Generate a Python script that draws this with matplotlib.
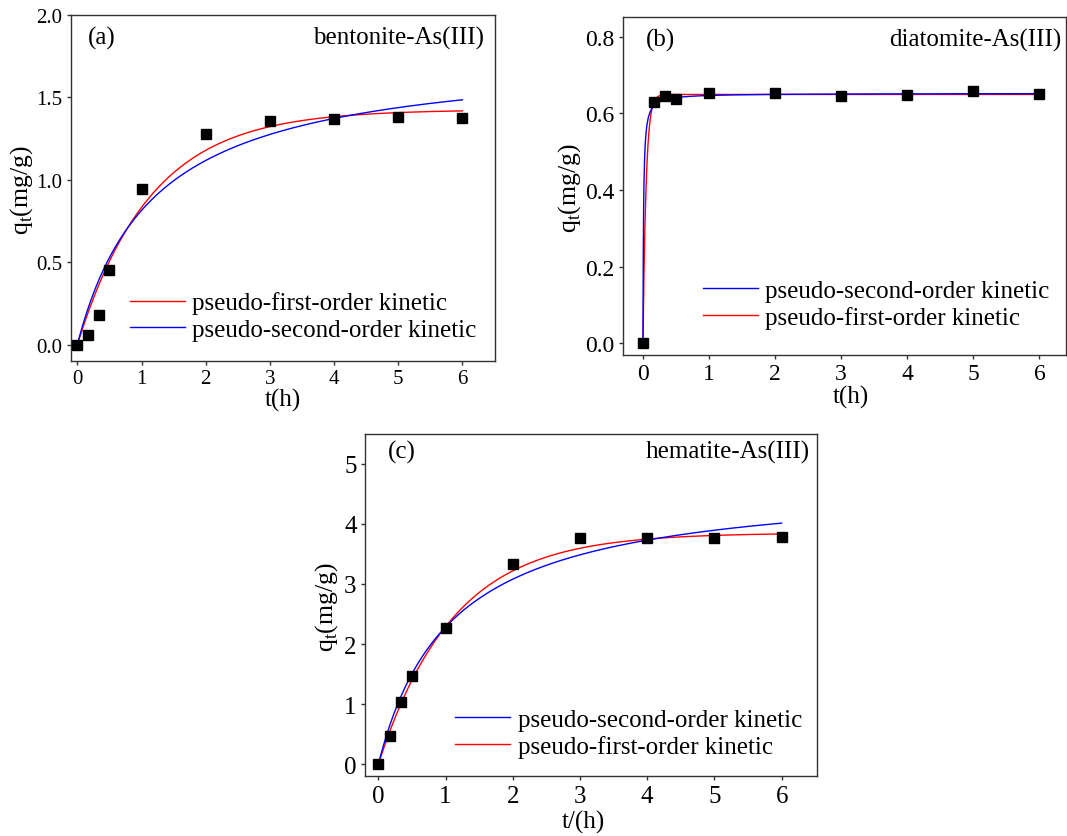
import numpy as np
import matplotlib
matplotlib.use("Agg")
import matplotlib.pyplot as plt

plt.rcParams['font.family'] = ['Liberation Serif', 'DejaVu Serif']
plt.rcParams['mathtext.fontset'] = 'custom'
plt.rcParams['mathtext.rm'] = 'Liberation Serif'

# sampling times (h)
t_data = [0, 0.167, 0.333, 0.5, 1, 2, 3, 4, 5, 6]

# measured uptake q_t (mg/g)
q_bentonite = [0.0, 0.06, 0.18, 0.45, 0.944, 1.275, 1.358, 1.37, 1.38, 1.375]
q_diatomite = [0.0, 0.63, 0.646, 0.638, 0.653, 0.652, 0.645, 0.648, 0.657, 0.650]
q_hematite = [0.0, 0.47, 1.03, 1.465, 2.264, 3.34, 3.773, 3.757, 3.773, 3.784]

# fitted parameters: (qe, k)
pfo_bentonite = (1.425, 0.877)
pso_bentonite = (1.778, 0.475)
pfo_diatomite = (0.649, 21.0)
pso_diatomite = (0.652, 175.0)
pfo_hematite = (3.85, 0.904)
pso_hematite = (4.728, 0.1977)

t_fit = np.linspace(0, 6, 1200)


def pfo(t, qe, k):
    return qe * (1 - np.exp(-k * t))


def pso(t, qe, k):
    return qe ** 2 * k * t / (1 + qe * k * t)


fig = plt.figure(figsize=(10.67, 8.37), dpi=100)

ax_a = fig.add_axes([0.0665, 0.5675, 0.397, 0.4135])
ax_b = fig.add_axes([0.584, 0.575, 0.415, 0.403])
ax_c = fig.add_axes([0.342, 0.0713, 0.4233, 0.4093])

panels = [
    dict(ax=ax_a, q=q_bentonite, p1=pfo_bentonite, p2=pso_bentonite, order="first",
         tag="(a)", name="bentonite-As(III)", xlim=(-0.1, 6.5), ylim=(-0.1, 2.0),
         yticks=[0.0, 0.5, 1.0, 1.5, 2.0], yfmt="%.1f", tfs=15,
         xlabel="t(h)", xl=(0.5, -0.11), yl=(-0.116, 0.497),
         tagpos=(0.04, 0.936), namepos=(0.976, 0.936), leg=(0.139, 0.13)),
    dict(ax=ax_b, q=q_diatomite, p1=pfo_diatomite, p2=pso_diatomite, order="second",
         tag="(b)", name="diatomite-As(III)", xlim=(-0.3, 6.4), ylim=(-0.03, 0.85),
         yticks=[0.0, 0.2, 0.4, 0.6, 0.8], yfmt="%.1f", tfs=17,
         xlabel="t(h)", xl=(0.515, -0.125), yl=(-0.12, 0.497),
         tagpos=(0.051, 0.936), namepos=(0.99, 0.936), leg=(0.18, 0.15)),
    dict(ax=ax_c, q=q_hematite, p1=pfo_hematite, p2=pso_hematite, order="second",
         tag="(c)", name="hematite-As(III)", xlim=(-0.2, 6.52), ylim=(-0.2, 5.5),
         yticks=[0, 1, 2, 3, 4, 5], yfmt="%d", tfs=18,
         xlabel="t/(h)", xl=(0.483, -0.133), yl=(-0.084, 0.498),
         tagpos=(0.051, 0.947), namepos=(0.986, 0.947), leg=(0.2, 0.126)),
]

for p in panels:
    ax = p["ax"]
    l1, = ax.plot(t_fit, pfo(t_fit, *p["p1"]), color="red", lw=1.0,
                  label="pseudo-first-order kinetic")
    l2, = ax.plot(t_fit, pso(t_fit, *p["p2"]), color="blue", lw=1.0,
                  label="pseudo-second-order kinetic")
    ax.plot(t_data, p["q"], "s", color="black", ms=7.8, zorder=3)

    ax.set_xlim(*p["xlim"])
    ax.set_ylim(*p["ylim"])
    ax.set_xticks([0, 1, 2, 3, 4, 5, 6])
    ax.set_yticks(p["yticks"])
    ax.set_yticklabels([p["yfmt"] % v for v in p["yticks"]])
    ax.tick_params(direction="out", length=3, width=1, pad=3,
                   labelsize=p["tfs"], color="#333333")
    for s in ax.spines.values():
        s.set_color("#333333")
        s.set_linewidth(1.0)

    ax.set_xlabel(p["xlabel"], fontsize=18)
    ax.xaxis.set_label_coords(*p["xl"])
    ax.xaxis.label.set_va("center")
    ax.set_ylabel(r"q$_\mathregular{t}$(mg/g)", fontsize=18.5)
    ax.yaxis.set_label_coords(*p["yl"])
    ax.yaxis.label.set_va("center")

    ax.text(p["tagpos"][0], p["tagpos"][1], p["tag"], transform=ax.transAxes,
            fontsize=18, ha="left", va="center")
    ax.text(p["namepos"][0], p["namepos"][1], p["name"], transform=ax.transAxes,
            fontsize=18, ha="right", va="center")

    handles = [l1, l2] if p["order"] == "first" else [l2, l1]
    ax.legend(handles=handles, loc="center left", bbox_to_anchor=p["leg"],
              frameon=False, fontsize=18, handlelength=2.2,
              handletextpad=0.3, labelspacing=0.15, borderpad=0,
              borderaxespad=0)

fig.savefig("out.png", dpi=100)
